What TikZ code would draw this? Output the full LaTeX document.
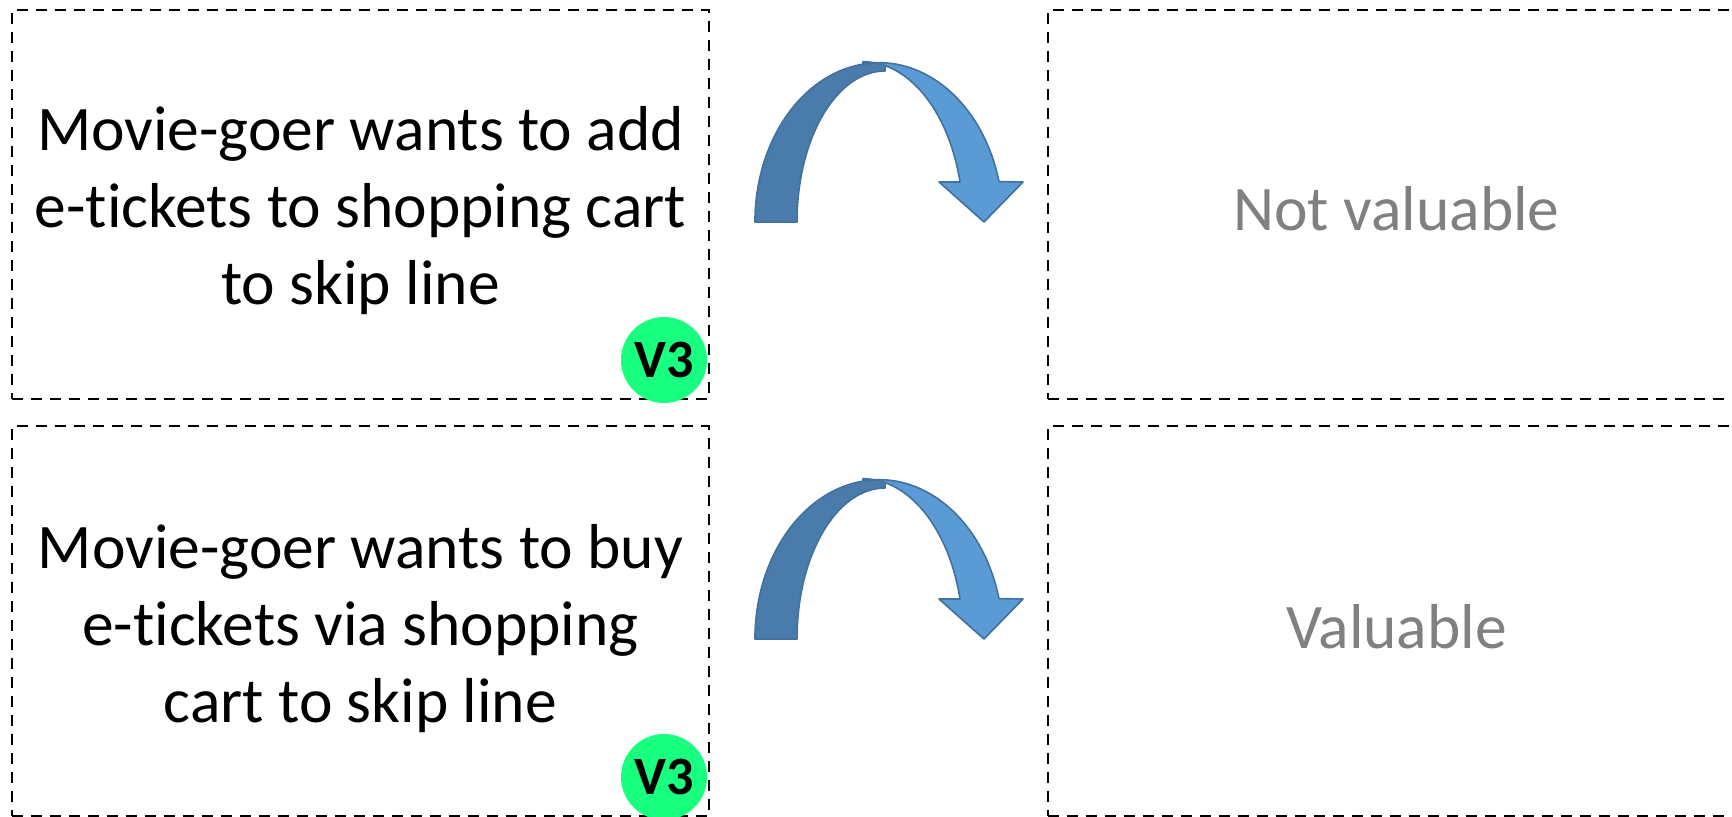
\documentclass[tikz,border=0pt]{standalone}
\usepackage{fontspec}
\setmainfont[Ligatures=NoCommon]{Carlito}
\definecolor{badgegreen}{RGB}{25,255,128}
\definecolor{arrowlightc}{RGB}{91,155,213}
\definecolor{arrowdarkc}{RGB}{73,124,170}
\definecolor{arrowline}{RGB}{65,113,156}
\definecolor{graytxt}{RGB}{128,128,128}
\tikzset{
  cardbox/.style={draw=black, line width=1pt, dash pattern=on 5.5pt off 4pt,
    minimum width=348.5pt, minimum height=194.5pt, inner sep=0pt},
  cardtext/.style={align=center, inner sep=0pt, font=\fontsize{31.75}{38.5}\selectfont},
  graytext/.style={cardtext, text=graytxt},
  badge/.style={circle, fill=badgegreen, minimum size=43pt, inner sep=0pt,
    font=\bfseries\fontsize{27}{27}\selectfont},
  arrowdark/.style={fill=arrowdarkc, draw=arrowline, line width=0.8pt, line join=round},
  arrowlight/.style={fill=arrowlightc, draw=arrowline, line width=0.8pt, line join=round},
}
\begin{document}
\begin{tikzpicture}[x=0.5pt,y=-0.5pt]
\clip (0,0) rectangle (1732,817);
\fill[white] (0,0) rectangle (1732,817);
% boxes
\node[cardbox] (s1) at (360.5,204.5) {};
\node[cardbox] (s2) at (360.5,621) {};
\node[cardbox] (r1) at (1396.5,204.5) {};
\node[cardbox] (r2) at (1396.5,621) {};
% texts
\node[cardtext] (t1) at (360.5,211) {Movie-goer wants to add\\e-tickets to shopping cart\\to skip line};
\node[cardtext] (t2) at (360.5,629) {Movie-goer wants to buy\\e-tickets via shopping\\cart to skip line};
\node[graytext] (g1) at (1396.5,209) {Not valuable};
\node[graytext] (g2) at (1396.5,627) {Valuable};
% badges
\node[badge] (v1) at (664,360) {V3};
\node[badge] (v2) at (664,777) {V3};
% curved arrows
\foreach \dy/\nm in {0/a1, 417/a2} {
  \begin{scope}[yshift=-0.5*\dy pt]
    \coordinate (\nm-l) at (755,222);
    \draw[arrowdark] (\nm-l) -- (797,222)
      arc[start angle=180, end angle=270, x radius=88, y radius=151]
      -- (885,63)
      arc[start angle=272.8, end angle=180, x radius=124, y radius=159] -- cycle;
    \draw[arrowlight] (863,64)
      arc[start angle=262.6, end angle=345.4, x radius=124, y radius=159]
      -- (1023,182) -- (984,222) coordinate (\nm-tip) -- (939,182) -- (960,182)
      arc[start angle=345.9, end angle=270, x radius=100, y radius=159] -- cycle;
  \end{scope}
}
\end{tikzpicture}
\end{document}
